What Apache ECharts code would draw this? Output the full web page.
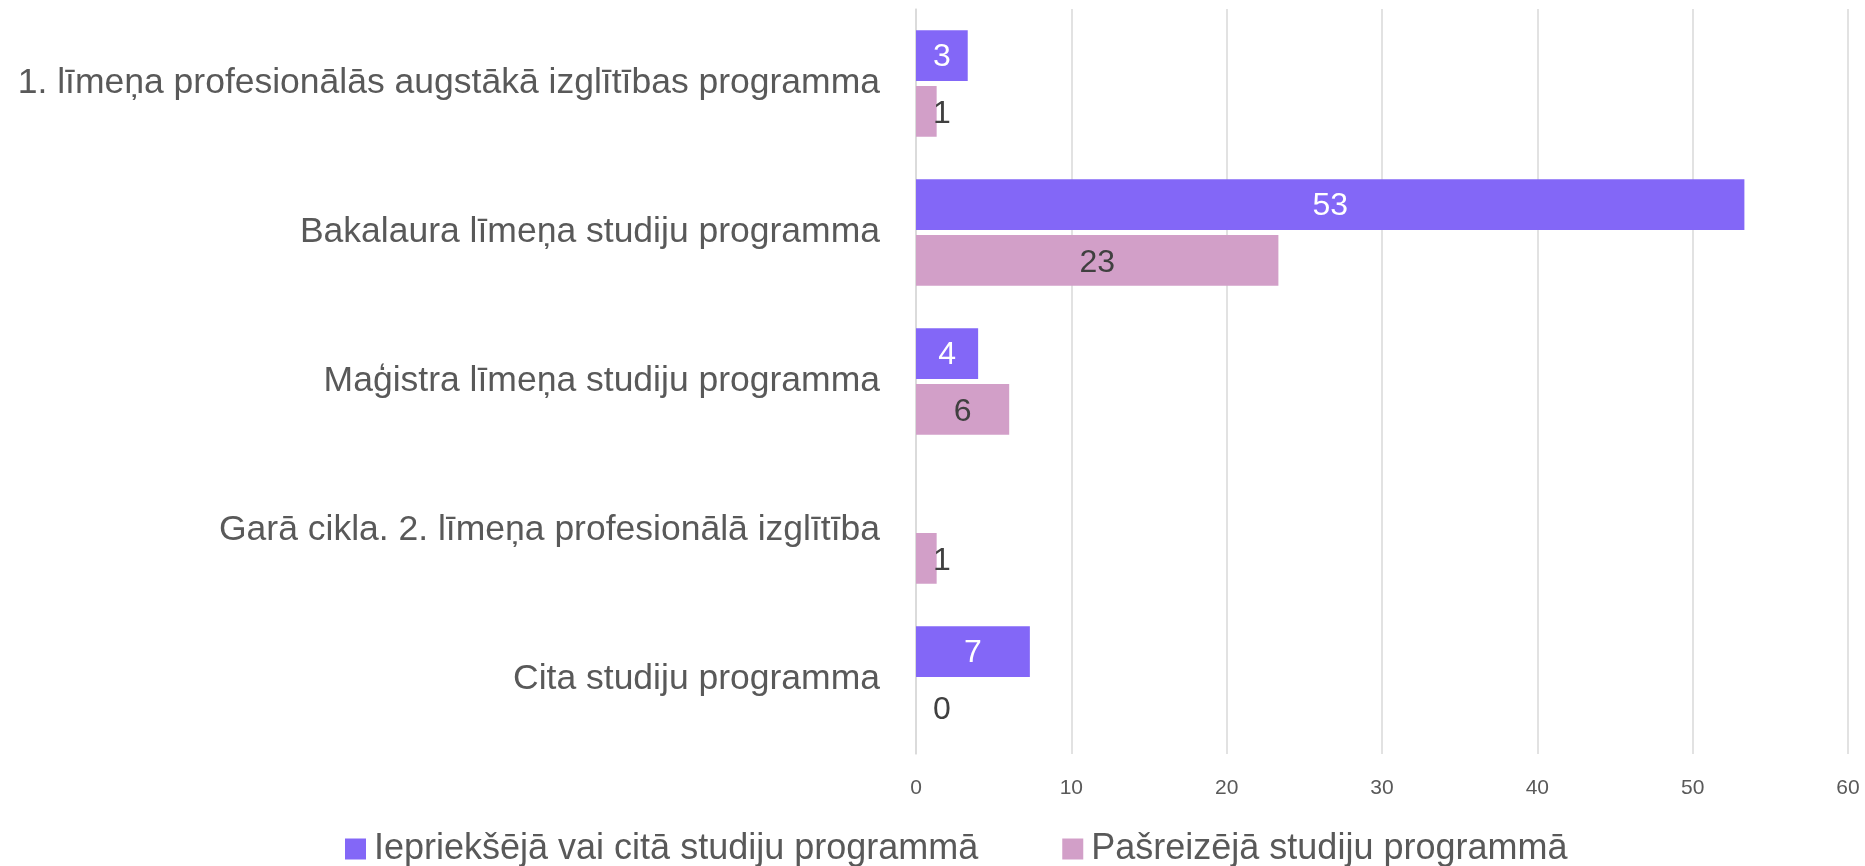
<!DOCTYPE html>
<html>
<head>
<meta charset="utf-8">
<script src="https://cdn.jsdelivr.net/npm/echarts@6/dist/echarts.min.js"></script>
<style>
html,body{margin:0;padding:0;background:#fff;}
#chart{width:1865px;height:866px;}
</style>
</head>
<body>
<div id="chart"></div>
<script>
const categories = [
  '1. līmeņa profesionālās augstākā izglītības programma',
  'Bakalaura līmeņa studiju programma',
  'Maģistra līmeņa studiju programma',
  'Garā cikla. 2. līmeņa profesionālā izglītība',
  'Cita studiju programma'
];
const seriesNames = ['Iepriekšējā vai citā studiju programmā', 'Pašreizējā studiju programmā'];
const previousValues = [3.33, 53.33, 4, null, 7.33];
const currentValues = [1.33, 23.33, 6, 1.33, 0];
const xTicks = { min: 0, max: 60, interval: 10 };

const FONT = '"Liberation Sans", Arial, sans-serif';
const pxPerUnit = (1848 - 916) / 60;

function makeData(vals, color) {
  return vals.map(v => {
    if (v === null) return { value: null };
    const w = v * pxPerUnit;
    if (w < 52) {
      return { value: v, label: { position: [26, '50%'], align: 'center', verticalAlign: 'middle', color: color } };
    }
    return { value: v };
  });
}

const labelFmt = p => (p.value === null || p.value === undefined) ? '' : String(Math.round(p.value));

const chart = echarts.init(document.getElementById('chart'));
chart.setOption({
  animation: false,
  grid: { left: 916, right: 17, top: 9, bottom: 112, containLabel: false },
  legend: {
    left: 340,
    top: 826,
    icon: 'rect',
    itemWidth: 21,
    itemHeight: 21,
    itemGap: 84,
    textStyle: { fontFamily: FONT, fontSize: 36, color: '#595959', padding: [0, 0, 0, 3] },
    data: seriesNames
  },
  xAxis: {
    type: 'value',
    min: xTicks.min, max: xTicks.max, interval: xTicks.interval,
    axisLine: { show: false },
    axisTick: { show: false },
    splitLine: { lineStyle: { color: '#D9D9D9', width: 1.5 } },
    axisLabel: { fontFamily: FONT, fontSize: 21, color: '#595959', margin: 24 }
  },
  yAxis: {
    type: 'category',
    inverse: true,
    data: categories,
    axisLine: { show: true, lineStyle: { color: '#D9D9D9', width: 1.5 } },
    axisTick: { show: false },
    axisLabel: { fontFamily: FONT, fontSize: 35.5, color: '#595959', margin: 36, padding: [8, 0, 0, 0] }
  },
  series: [
    {
      name: seriesNames[0],
      type: 'bar',
      data: makeData(previousValues, '#FFFFFF'),
      barWidth: '34%',
      barGap: '10%',
      itemStyle: { color: '#8367F7' },
      label: {
        show: true, position: 'inside', color: '#FFFFFF',
        fontFamily: FONT, fontSize: 32, offset: [0, 2],
        formatter: labelFmt
      }
    },
    {
      name: seriesNames[1],
      type: 'bar',
      data: makeData(currentValues, '#404040'),
      barWidth: '34%',
      barGap: '10%',
      itemStyle: { color: '#D29FC8' },
      label: {
        show: true, position: 'inside', color: '#404040',
        fontFamily: FONT, fontSize: 32, offset: [0, 3],
        formatter: labelFmt
      }
    }
  ]
});
</script>
</body>
</html>
